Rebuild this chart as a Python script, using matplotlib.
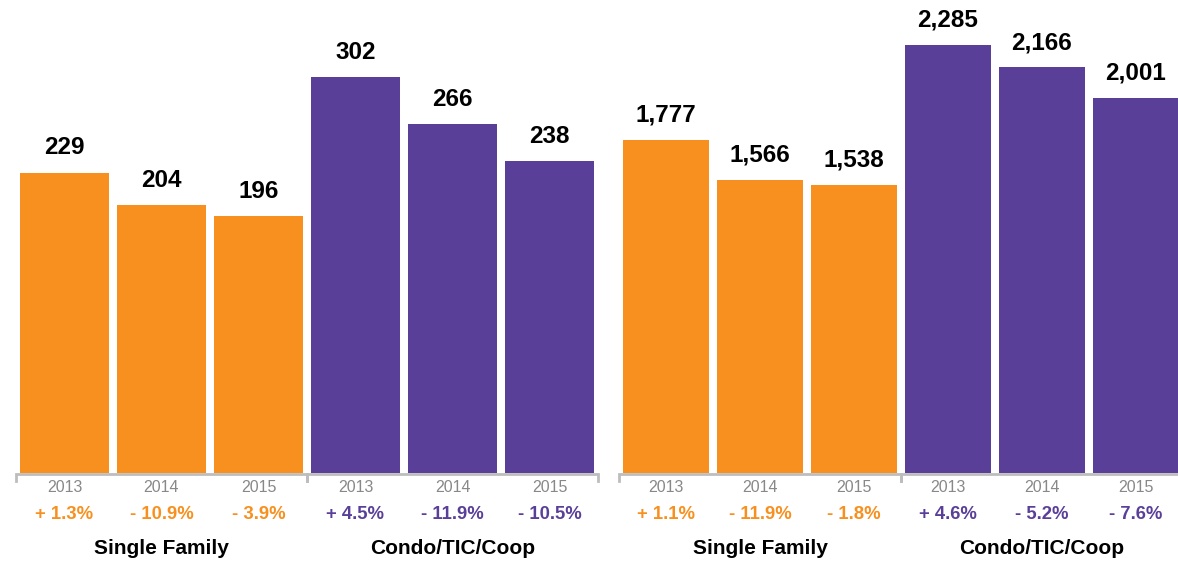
import matplotlib
matplotlib.use("Agg")
import matplotlib.pyplot as plt
from matplotlib.transforms import blended_transform_factory

plt.rcParams['font.family'] = ['Liberation Sans', 'DejaVu Sans']

years = ["2013", "2014", "2015"]
groups = ["Single Family", "Condo/TIC/Coop"]

left_sf = [229, 204, 196]
left_condo = [302, 266, 238]
left_sf_pct = ["+ 1.3%", "- 10.9%", "- 3.9%"]
left_condo_pct = ["+ 4.5%", "- 11.9%", "- 10.5%"]

right_sf = [1777, 1566, 1538]
right_condo = [2285, 2166, 2001]
right_sf_pct = ["+ 1.1%", "- 11.9%", "- 1.8%"]
right_condo_pct = ["+ 4.6%", "- 5.2%", "- 7.6%"]

ORANGE = "#F7901E"
PURPLE = "#5A3F99"
GRAY_TXT = "#888888"
BRACKET = "#BDBDBD"

W, H = 1178, 561
fig = plt.figure(figsize=(W / 100, H / 100), dpi=100)

def panel(left_px, unit_px, ytop, sf, condo, sf_pct, condo_pct):
    ax = fig.add_axes([left_px / W, 88 / H, 6 * unit_px / W, 473 / H])
    ax.set_xlim(-0.5, 5.5)
    ax.set_ylim(0, ytop)
    ax.axis("off")
    vals = sf + condo
    cols = [ORANGE] * 3 + [PURPLE] * 3
    pcts = sf_pct + condo_pct
    xs = list(range(6))
    ax.bar(xs, vals, width=0.91, color=cols, linewidth=0)
    for x, v, c, p in zip(xs, vals, cols, pcts):
        ax.annotate(f"{v:,}", xy=(x, v), xytext=(0, 13), textcoords="offset points",
                    ha="center", va="baseline", fontsize=17.5, fontweight="bold",
                    color="black")
        ax.annotate(years[x % 3], xy=(x, 0), xytext=(0, -13.7), textcoords="offset points",
                    ha="center", va="baseline", fontsize=11.5, color=GRAY_TXT,
                    annotation_clip=False)
        ax.annotate(p, xy=(x, 0), xytext=(0, -33.1), textcoords="offset points",
                    ha="center", va="baseline", fontsize=13.3, fontweight="bold",
                    color=c, annotation_clip=False)
    tr = blended_transform_factory(ax.transData, fig.transFigure)
    yl = 1 - 474 / H
    yt = 1 - 481 / H
    for gi, g in enumerate(groups):
        x0, x1 = -0.5 + 3 * gi, 2.5 + 3 * gi
        ax.plot([x0, x0, x1, x1], [yt, yl, yl, yt], transform=tr, color=BRACKET,
                lw=2, clip_on=False, solid_joinstyle="miter")
        ax.annotate(g, xy=((x0 + x1) / 2, 0), xytext=(0, -58.3), textcoords="offset points",
                    ha="center", va="baseline", fontsize=15, fontweight="bold",
                    color="black", annotation_clip=False)
    return ax

panel(16, 97, 360.5, left_sf, left_condo, left_sf_pct, left_condo_pct)
panel(619, 94, 2524, right_sf, right_condo, right_sf_pct, right_condo_pct)

fig.savefig("out.png", dpi=100, facecolor="white")
